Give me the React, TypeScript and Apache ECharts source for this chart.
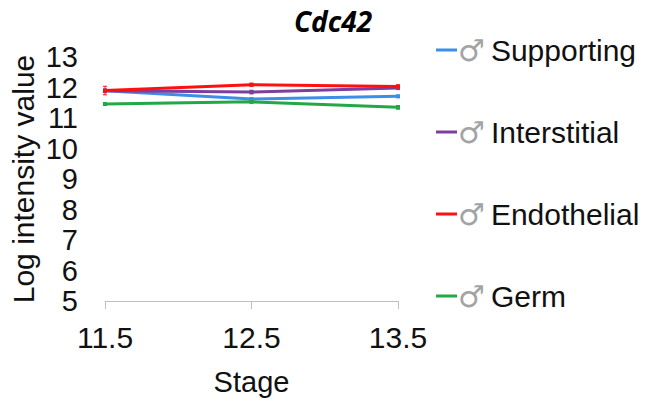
import React, { useEffect, useRef } from "react";
import * as echarts from "echarts";

const stages = ["11.5", "12.5", "13.5"];
const seriesNames = ["Supporting", "Interstitial", "Endothelial", "Germ"];
const supporting = [11.89, 11.62, 11.71];
const interstitial = [11.89, 11.85, 11.98];
const endothelial = [11.9, 12.09, 12.03];
const germ = [11.46, 11.53, 11.35];
const supportingErr = [0.06, 0.04, 0.04];
const interstitialErr = [0.05, 0.06, 0.04];
const endothelialErr = [0.14, 0.05, 0.06];
const germErr = [0.04, 0.04, 0.06];
const colors = ["#3d8ee8", "#7c3f9e", "#ff1010", "#22a846"];

export default function App() {
  const ref = useRef<HTMLDivElement>(null);
  useEffect(() => {
    const chart = echarts.init(ref.current!, null, { renderer: "svg" });
    const values = [supporting, interstitial, endothelial, germ];
    const errs = [supportingErr, interstitialErr, endothelialErr, germErr];
    const lineSeries = seriesNames.map((n, i) => ({
      name: n,
      type: "line",
      data: values[i],
      symbol: "rect",
      symbolSize: 4,
      lineStyle: { width: 3, color: colors[i] },
      itemStyle: { color: colors[i] },
      z: 3 + i,
    }));
    const errSeries = seriesNames.map((n, i) => ({
      name: n,
      type: "custom",
      data: values[i].map((v, j) => [j, v - errs[i][j], v + errs[i][j]]),
      renderItem: (params: any, api: any) => {
        const x = api.value(0);
        const lo = api.coord([x, api.value(1)]);
        const hi = api.coord([x, api.value(2)]);
        const c = 2;
        return {
          type: "group",
          children: [
            { type: "line", shape: { x1: lo[0], y1: lo[1], x2: hi[0], y2: hi[1] }, style: { stroke: colors[i], lineWidth: 1 } },
            { type: "line", shape: { x1: lo[0] - c, y1: lo[1], x2: lo[0] + c, y2: lo[1] }, style: { stroke: colors[i], lineWidth: 1 } },
            { type: "line", shape: { x1: hi[0] - c, y1: hi[1], x2: hi[0] + c, y2: hi[1] }, style: { stroke: colors[i], lineWidth: 1 } },
          ],
        };
      },
      z: 2,
    }));
    chart.setOption({
      animation: false,
      title: {
        text: "Cdc42",
        left: 328,
        textAlign: "center",
        top: 2,
        textStyle: { fontFamily: "Open Sans", fontStyle: "italic", fontWeight: "bold", fontSize: 28, color: "#000" },
      },
      legend: {
        orient: "vertical",
        left: 431,
        top: 30,
        itemGap: 52,
        itemWidth: 21,
        itemHeight: 3,
        icon: "rect",
        data: seriesNames.map((n, i) => ({ name: n, itemStyle: { color: colors[i] } })),
        formatter: (name: string) => `{m|♂}{t|${name}}`,
        textStyle: {
          padding: [0, 0, 0, -4],
          rich: {
            m: { fontFamily: "DejaVu Sans", fontSize: 30, color: "#a3a3a3", padding: [0, 6, 0, 0] },
            t: { fontFamily: "Liberation Sans", fontSize: 30, color: "#111" },
          },
        },
      },
      grid: { left: 105, right: 250, top: 57, bottom: 97 },
      xAxis: {
        type: "category",
        data: stages,
        boundaryGap: false,
        name: "Stage",
        nameLocation: "middle",
        nameGap: 66,
        nameTextStyle: { fontFamily: "Liberation Sans", fontSize: 29, color: "#111" },
        axisLine: { lineStyle: { color: "#bfbfbf", width: 1 } },
        axisTick: { show: true, length: 8, lineStyle: { color: "#bfbfbf" } },
        axisLabel: { fontFamily: "Liberation Sans", fontSize: 30, color: "#111", margin: 21 },
      },
      yAxis: {
        type: "value",
        min: 5,
        max: 13,
        interval: 1,
        name: "Log intensity value",
        nameLocation: "middle",
        nameGap: 67,
        nameTextStyle: { fontFamily: "Liberation Sans", fontSize: 30, color: "#111" },
        axisLine: { show: false },
        axisTick: { show: false },
        splitLine: { show: false },
        axisLabel: { fontFamily: "Liberation Sans", fontSize: 29, color: "#111", margin: 27 },
      },
      series: [...errSeries, ...lineSeries],
    });
    return () => chart.dispose();
  }, []);
  return <div ref={ref} style={{ width: 648, height: 401, position: "absolute", left: 0, top: 0 }} />;
}
